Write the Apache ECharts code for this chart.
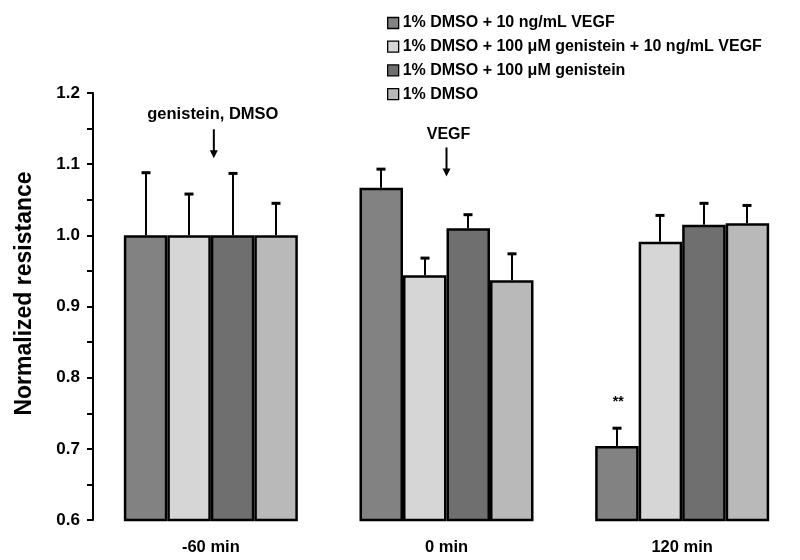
<!DOCTYPE html>
<html>
<head>
<meta charset="utf-8">
<script src="https://cdn.jsdelivr.net/npm/echarts@6/dist/echarts.min.js"></script>
<style>html,body{margin:0;padding:0;background:#fff}#c{width:800px;height:560px}</style>
</head>
<body>
<div id="c"></div>
<script>
var categories = ['-60 min', '0 min', '120 min'];
var seriesNames = [
  '1% DMSO + 10 ng/mL VEGF',
  '1% DMSO + 100 \u03bcM genistein + 10 ng/mL VEGF',
  '1% DMSO + 100 \u03bcM genistein',
  '1% DMSO'
];
var vegfVals = [1.000, 1.067, 0.704];
var genVegfVals = [1.000, 0.944, 0.991];
var genVals = [1.000, 1.010, 1.015];
var dmsoVals = [1.000, 0.937, 1.017];
var vegfErr = [0.088, 0.026, 0.025];
var genVegfErr = [0.058, 0.024, 0.037];
var genErr = [0.087, 0.019, 0.030];
var dmsoErr = [0.045, 0.037, 0.025];
var yTicks = [0.6, 0.7, 0.8, 0.9, 1.0, 1.1, 1.2];

var colors = ['#828282', '#d6d6d6', '#6f6f6f', '#b9b9b9'];
var allVals = [vegfVals, genVegfVals, genVals, dmsoVals];
var allErr = [vegfErr, genVegfErr, genErr, dmsoErr];
var BW = 43.5;
var FONT = 'Liberation Sans, Arial, sans-serif';

var series = [];
allVals.forEach(function (vals, s) {
  series.push({
    name: seriesNames[s], type: 'bar', data: vals, barWidth: BW, barGap: '0%',
    itemStyle: { color: colors[s], borderColor: '#000', borderWidth: 2.5 },
    z: 2
  });
});
allVals.forEach(function (vals, s) {
  series.push({
    type: 'custom', z: 3, silent: true,
    data: vals.map(function (v, i) { return [i, v, v + allErr[s][i]]; }),
    renderItem: function (params, api) {
      var p0 = api.coord([api.value(0), api.value(1)]);
      var p1 = api.coord([api.value(0), api.value(2)]);
      var x = Math.round(p0[0] + (s - 1.5) * BW);
      return { type: 'group', children: [
        { type: 'line', shape: { x1: x, y1: p0[1], x2: x, y2: p1[1] }, style: { stroke: '#000', lineWidth: 2 } },
        { type: 'line', shape: { x1: x - 4.5, y1: p1[1], x2: x + 4.5, y2: p1[1] }, style: { stroke: '#000', lineWidth: 3 } }
      ]};
    }
  });
});

var chart = echarts.init(document.getElementById('c'));
chart.setOption({
  animation: false,
  backgroundColor: '#fff',
  grid: { left: 93, width: 711, top: 93, bottom: 40, containLabel: false },
  legend: {
    data: seriesNames, orient: 'vertical', left: 382, top: 10,
    itemWidth: 11, itemHeight: 11, itemGap: 7.7, icon: 'rect',
    itemStyle: { borderColor: '#000', borderWidth: 1.3 },
    textStyle: { fontFamily: FONT, fontWeight: 'bold', fontSize: 16, color: '#000', padding: [0, 0, 0, -1] }
  },
  xAxis: {
    type: 'category', data: categories,
    axisLine: { show: false }, axisTick: { show: false },
    axisLabel: { fontFamily: FONT, fontWeight: 'bold', fontSize: 16.5, color: '#000', margin: 19 }
  },
  yAxis: {
    type: 'value', min: 0.6, max: 1.2, interval: 0.1,
    name: 'Normalized resistance', nameLocation: 'middle', nameGap: 57,
    nameTextStyle: { fontFamily: FONT, fontWeight: 'bold', fontSize: 23, color: '#000', padding: [0, 0, 0, 26] },
    axisLine: { show: true, lineStyle: { color: '#000', width: 2 } },
    axisTick: { show: true, length: 6, lineStyle: { color: '#000', width: 2 } },
    minorTick: { show: true, splitNumber: 2, length: 6, lineStyle: { color: '#000', width: 2 } },
    splitLine: { show: false },
    axisLabel: { fontFamily: FONT, fontWeight: 'bold', fontSize: 17, color: '#000', margin: 13,
      formatter: function (v) { return v.toFixed(1); } }
  },
  series: series
});

function px(cat, val) { return chart.convertToPixel({ gridIndex: 0 }, [cat, val]); }
function arrow(x, y1, y2) {
  return [
    { type: 'line', shape: { x1: x, y1: y1, x2: x, y2: y2 - 6 }, style: { stroke: '#000', lineWidth: 2 } },
    { type: 'polygon', shape: { points: [[x - 4, y2 - 8], [x + 4, y2 - 8], [x, y2]] }, style: { fill: '#000' } }
  ];
}
var a1 = px(0, 1.142);
var a2 = px(1, 1.115);
var st = px(2, 0.767);
var g = [
  { type: 'text', x: a1[0] + 2, y: a1[1] - 20, style: { text: 'genistein, DMSO', fontFamily: FONT, fontWeight: 'bold', fontSize: 16.5, fill: '#000', align: 'center', verticalAlign: 'middle' } },
  { type: 'text', x: a2[0] + 2, y: a2[1] - 19, style: { text: 'VEGF', fontFamily: FONT, fontWeight: 'bold', fontSize: 16, fill: '#000', align: 'center', verticalAlign: 'middle' } },
  { type: 'text', x: st[0] - 64, y: st[1] + 1, style: { text: '**', fontFamily: FONT, fontWeight: 'bold', fontSize: 14, fill: '#000', align: 'center', verticalAlign: 'middle' } }
].concat(arrow(a1[0] + 3, a1[1] - 5, a1[1] + 24)).concat(arrow(a2[0], a2[1] - 6, a2[1] + 23));
chart.setOption({ graphic: g });
</script>
</body>
</html>
